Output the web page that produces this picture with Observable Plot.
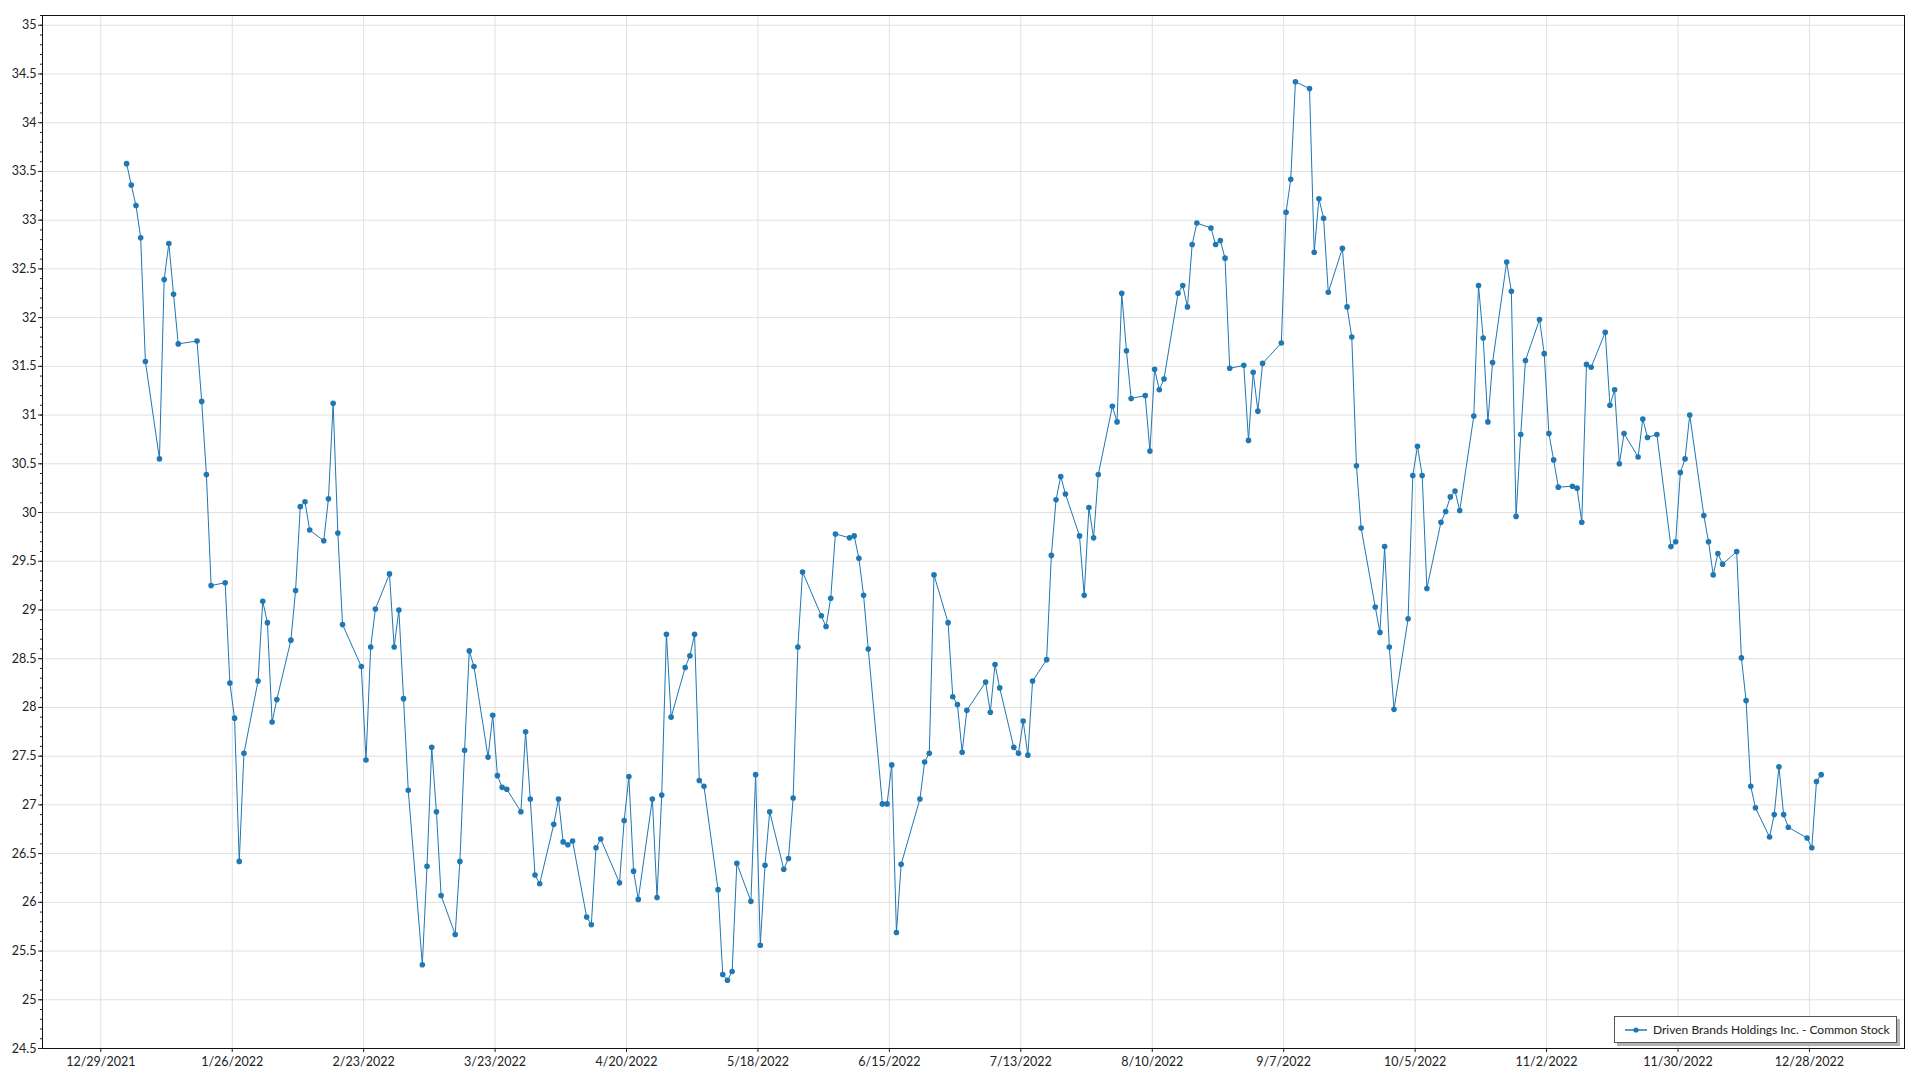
<!DOCTYPE html>
<html>
<head>
<meta charset="utf-8">
<script src="https://cdn.jsdelivr.net/npm/d3@7"></script>
<script src="https://cdn.jsdelivr.net/npm/@observablehq/plot@0.6"></script>
<style>
  html, body { margin: 0; padding: 0; background: #fff; }
  #wrap { position: relative; width: 1920px; height: 1080px; }
  #legend {
    position: absolute; left: 1614px; top: 1016px; width: 283px; height: 27px;
    border: 1px solid #555; background: #fff; box-shadow: 3px 3px 0 #b4b4b4;
    font-family: Lato, "Noto Sans", sans-serif; font-size: 12px; color: #222;
    display: flex; align-items: center; box-sizing: border-box; white-space: nowrap;
  }
  #legend svg { margin-left: 10px; margin-right: 6px; flex: none; }
</style>
</head>
<body>
<div id="wrap"></div>
<script>
// ---- Data: Driven Brands Holdings Inc. daily close, 2022 ----
const seriesName = "Driven Brands Holdings Inc. - Common Stock";
const year = 2022;
const janDays = [3,4,5,6,7,10,11,12,13,14,18,19,20,21,24,25,26,27,28,31];
const janClose = [33.58,33.36,33.15,32.82,31.55,30.55,32.39,32.76,32.24,31.73,31.76,31.14,30.39,29.25,29.28,28.25,27.89,26.42,27.53,28.27];
const febDays = [1,2,3,4,7,8,9,10,11,14,15,16,17,18,22,23,24,25,28];
const febClose = [29.09,28.87,27.85,28.08,28.69,29.20,30.06,30.11,29.82,29.71,30.14,31.12,29.79,28.85,28.42,27.46,28.62,29.01,29.37];
const marDays = [1,2,3,4,7,8,9,10,11,14,15,16,17,18,21,22,23,24,25,28,29,30,31];
const marClose = [28.62,29.00,28.09,27.15,25.36,26.37,27.59,26.93,26.07,25.67,26.42,27.56,28.58,28.42,27.49,27.92,27.30,27.18,27.16,26.93,27.75,27.06,26.28];
const aprDays = [1,4,5,6,7,8,11,12,13,14,18,19,20,21,22,25,26,27,28,29];
const aprClose = [26.19,26.80,27.06,26.62,26.59,26.63,25.85,25.77,26.56,26.65,26.20,26.84,27.29,26.32,26.03,27.06,26.05,27.10,28.75,27.90];
const mayDays = [2,3,4,5,6,9,10,11,12,13,16,17,18,19,20,23,24,25,26,27,31];
const mayClose = [28.41,28.53,28.75,27.25,27.19,26.13,25.26,25.20,25.29,26.40,26.01,27.31,25.56,26.38,26.93,26.34,26.45,27.07,28.62,29.39,28.94];
const junDays = [1,2,3,6,7,8,9,10,13,14,15,16,17,21,22,23,24,27,28,29,30];
const junClose = [28.83,29.12,29.78,29.74,29.76,29.53,29.15,28.60,27.01,27.01,27.41,25.69,26.39,27.06,27.44,27.53,29.36,28.87,28.11,28.03,27.54];
const julDays = [1,5,6,7,8,11,12,13,14,15,18,19,20,21,22,25,26,27,28,29];
const julClose = [27.97,28.26,27.95,28.44,28.20,27.59,27.53,27.86,27.51,28.27,28.49,29.56,30.13,30.37,30.19,29.76,29.15,30.05,29.74,30.39];
const augDays = [1,2,3,4,5,8,9,10,11,12,15,16,17,18,19,22,23,24,25,26,29,30,31];
const augClose = [31.09,30.93,32.25,31.66,31.17,31.20,30.63,31.47,31.26,31.37,32.25,32.33,32.11,32.75,32.97,32.92,32.75,32.79,32.61,31.48,31.51,30.74,31.44];
const sepDays = [1,2,6,7,8,9,12,13,14,15,16,19,20,21,22,23,26,27,28,29,30];
const sepClose = [31.04,31.53,31.74,33.08,33.42,34.42,34.35,32.67,33.22,33.02,32.26,32.71,32.11,31.80,30.48,29.84,29.03,28.77,29.65,28.62,27.98];
const octDays = [3,4,5,6,7,10,11,12,13,14,17,18,19,20,21,24,25,26,27,28,31];
const octClose = [28.91,30.38,30.68,30.38,29.22,29.90,30.01,30.16,30.22,30.02,30.99,32.33,31.79,30.93,31.54,32.57,32.27,29.96,30.80,31.56,31.98];
const novDays = [1,2,3,4,7,8,9,10,11,14,15,16,17,18,21,22,23,25,28,29,30];
const novClose = [31.63,30.81,30.54,30.26,30.27,30.25,29.90,31.52,31.49,31.85,31.10,31.26,30.50,30.81,30.57,30.96,30.77,30.80,29.65,29.70,30.41];
const decDays = [1,2,5,6,7,8,9,12,13,14,15,16,19,20,21,22,23,27,28,29,30];
const decClose = [30.55,31.00,29.97,29.70,29.36,29.58,29.47,29.60,28.51,28.07,27.19,26.97,26.67,26.90,27.39,26.90,26.77,26.66,26.56,27.24,27.31];

const xTickLabels = ["12/29/2021","1/26/2022","2/23/2022","3/23/2022","4/20/2022","5/18/2022","6/15/2022",
  "7/13/2022","8/10/2022","9/7/2022","10/5/2022","11/2/2022","11/30/2022","12/28/2022"];
const xDomainLabels = ["2021-12-16T14:00:00Z", "2023-01-17T06:00:00Z"];
const yDomain = [24.5, 35.1];
const yTickRange = [24.5, 35];
const yMajorStep = 0.5;
const yMinorStep = 0.1;

// ---- Build table ----
const monthDays = [janDays,febDays,marDays,aprDays,mayDays,junDays,julDays,augDays,sepDays,octDays,novDays,decDays];
const monthClose = [janClose,febClose,marClose,aprClose,mayClose,junClose,julClose,augClose,sepClose,octClose,novClose,decClose];
const data = [];
monthDays.forEach((days, m) => {
  days.forEach((d, i) => data.push({date: new Date(Date.UTC(year, m, d, 12)), close: monthClose[m][i]}));
});

const parseTick = d3.utcParse("%m/%d/%Y");
const xTicks = xTickLabels.map(s => parseTick(s));
const nMajor = Math.round((yTickRange[1] - yTickRange[0]) / yMajorStep);
const yTicks = d3.range(nMajor + 1).map(i => +(yTickRange[0] + i * yMajorStep).toFixed(2));
const nMinor = Math.round((yDomain[1] - yDomain[0]) / yMinorStep);
const yMinor = d3.range(nMinor + 1).map(i => +(yDomain[0] + i * yMinorStep).toFixed(2));
const color = "#1f77b4";

const chart = Plot.plot({
  width: 1920,
  height: 1080,
  marginLeft: 42,
  marginRight: 16,
  marginTop: 15,
  marginBottom: 32,
  style: {fontFamily: "Lato, 'Noto Sans', sans-serif", fontSize: "12.5px", color: "#222", background: "#fff", overflow: "visible"},
  x: {type: "utc", domain: xDomainLabels.map(s => new Date(s))},
  y: {domain: yDomain},
  marks: [
    Plot.gridX(xTicks, {stroke: "#e0e0e0", strokeOpacity: 1}),
    Plot.gridY(yTicks, {stroke: "#e0e0e0", strokeOpacity: 1}),
    Plot.axisY(yMinor, {tickSize: 2, tickFormat: () => "", label: null, stroke: "#222"}),
    Plot.axisY(yTicks, {tickSize: 4, tickPadding: 2, tickFormat: d => String(d), label: null, stroke: "#222", fill: "#222"}),
    Plot.axisX(xTicks, {tickSize: 4, tickPadding: 5, tickFormat: d3.utcFormat("%-m/%-d/%Y"), label: null, stroke: "#222", fill: "#222"}),
    Plot.line(data, {x: "date", y: "close", stroke: color, strokeWidth: 1}),
    Plot.dot(data, {x: "date", y: "close", r: 2.8, fill: color, stroke: "none"}),
    Plot.frame({stroke: "#111"})
  ]
});

const wrap = document.getElementById("wrap");
wrap.appendChild(chart);

// Legend (inside plot area, bottom right)
const legend = document.createElement("div");
legend.id = "legend";
legend.innerHTML = `<svg width="22" height="8"><line x1="0" x2="22" y1="4" y2="4" stroke="${color}" stroke-width="1.5"/><circle cx="11" cy="4" r="2.6" fill="${color}"/></svg><span></span>`;
legend.querySelector("span").textContent = seriesName;
wrap.appendChild(legend);
</script>
</body>
</html>
